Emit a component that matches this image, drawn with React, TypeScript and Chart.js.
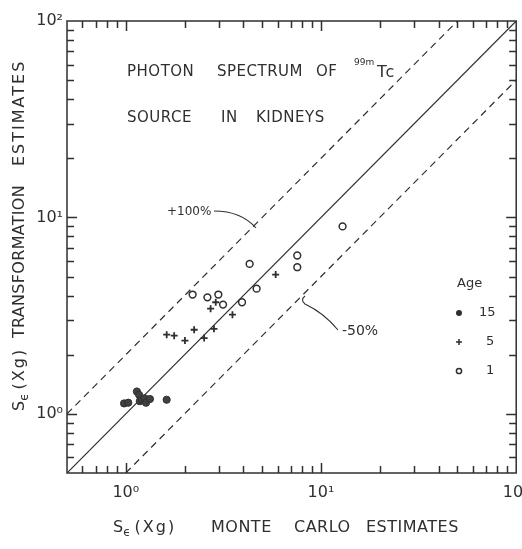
import React, { useEffect, useRef } from 'react';
import { Chart, registerables } from 'chart.js';

Chart.register(...registerables);

// Age 15 (filled circles)
const age15X = [0.98, 1.03, 1.14, 1.17, 1.18, 1.21, 1.25, 1.27, 1.33, 1.62];
const age15Y = [1.13, 1.14, 1.30, 1.25, 1.16, 1.18, 1.20, 1.14, 1.19, 1.18];
// Age 5 (crosses)
const age5X = [1.62, 1.77, 2.01, 2.24, 2.52, 2.83, 2.72, 2.89, 3.52, 5.86];
const age5Y = [2.53, 2.50, 2.36, 2.68, 2.43, 2.71, 3.43, 3.70, 3.20, 5.12];
// Age 1 (open circles)
const age1X = [2.20, 2.62, 2.98, 3.15, 3.94, 4.31, 4.68, 7.56, 7.56, 12.9];
const age1Y = [4.05, 3.92, 4.05, 3.60, 3.70, 5.80, 4.34, 6.40, 5.58, 9.0];

// reference lines (endpoints)
const identityX = [0.5, 100];
const identityY = [0.5, 100];
const plus100X = [0.5, 50];
const plus100Y = [1, 100];
const minus50X = [1, 100];
const minus50Y = [0.5, 50];

const axisMin = 0.5;
const axisMax = 100;
const majorTicks = [1, 10, 100];
const majorLabels = ['10⁰', '10¹', '10²'];
const minorTicks = [0.6, 0.7, 0.8, 0.9, 2, 3, 4, 5, 6, 7, 8, 9, 20, 30, 40, 50, 60, 70, 80, 90];
const ageLabels = ['15', '5', '1'];

const INK = '#2f2f2f';
const FONT = '"DejaVu Sans", sans-serif';

const pts = (xs: number[], ys: number[]) => xs.map((x, i) => ({ x, y: ys[i] }));

function tickLabel(v: any) {
  const i = majorTicks.indexOf(Number(v));
  return i >= 0 ? majorLabels[i] : '';
}

function setFont(ctx: CanvasRenderingContext2D, size: number, spacing = 0) {
  ctx.font = `${size}px ${FONT}`;
  (ctx as any).letterSpacing = `${spacing}px`;
}

function drawSe(ctx: CanvasRenderingContext2D, x: number, y: number, size: number) {
  setFont(ctx, size);
  ctx.fillText('S', x, y);
  let cx = x + ctx.measureText('S').width;
  setFont(ctx, Math.round(size * 0.75));
  ctx.fillText('ϵ', cx, y + size * 0.32);
  cx += ctx.measureText('ϵ').width + 4;
  setFont(ctx, size, 2);
  ctx.fillText('(Xg)', cx, y);
}

const decorPlugin = {
  id: 'decor',
  afterDraw(chart: any) {
    const ctx: CanvasRenderingContext2D = chart.ctx;
    const a = chart.chartArea;
    const xs = chart.scales.x;
    const ys = chart.scales.y;
    ctx.save();
    ctx.setLineDash([]);
    ctx.strokeStyle = INK;
    ctx.fillStyle = INK;
    ctx.lineWidth = 1.5;
    ctx.strokeRect(a.left, a.top, a.right - a.left, a.bottom - a.top);

    // inward ticks on all four sides
    ctx.lineWidth = 1.5;
    const tickVals = majorTicks.concat(minorTicks);
    ctx.beginPath();
    for (let i = 0; i < tickVals.length; i++) {
      const v = tickVals[i];
      const len = majorTicks.indexOf(v) >= 0 ? 10 : 7;
      const px = Math.round(xs.getPixelForValue(v)) + 0.5;
      if (px > a.left + 2 && px < a.right - 2) {
        ctx.moveTo(px, a.bottom);
        ctx.lineTo(px, a.bottom - len);
        ctx.moveTo(px, a.top);
        ctx.lineTo(px, a.top + len);
      }
      const py = Math.round(ys.getPixelForValue(v)) + 0.5;
      if (py > a.top + 2 && py < a.bottom - 2) {
        ctx.moveTo(a.left, py);
        ctx.lineTo(a.left + len, py);
        ctx.moveTo(a.right, py);
        ctx.lineTo(a.right - len, py);
      }
    }
    ctx.stroke();

    ctx.textBaseline = 'middle';
    ctx.textAlign = 'left';

    // title inside plot
    setFont(ctx, 15, 0.5);
    ctx.fillText('PHOTON', 127, 72);
    ctx.fillText('SPECTRUM', 217, 72);
    ctx.fillText('OF', 316, 72);
    setFont(ctx, 9);
    ctx.fillText('99m', 354, 63);
    setFont(ctx, 16, 1.5);
    ctx.fillText('Tc', 377, 73);
    setFont(ctx, 15, 0.5);
    ctx.fillText('SOURCE', 127, 118);
    ctx.fillText('IN', 221, 118);
    ctx.fillText('KIDNEYS', 256, 118);

    // annotations
    setFont(ctx, 12);
    ctx.fillText('+100%', 167, 212);
    setFont(ctx, 14);
    ctx.fillText('-50%', 342, 331);
    ctx.lineWidth = 1.1;
    ctx.beginPath();
    ctx.moveTo(214, 211);
    ctx.quadraticCurveTo(241, 211, 256, 228);
    ctx.stroke();
    ctx.beginPath();
    ctx.moveTo(305, 296);
    ctx.quadraticCurveTo(300, 300, 305, 304);
    ctx.quadraticCurveTo(324, 313, 338, 330);
    ctx.stroke();

    // legend
    setFont(ctx, 13);
    ctx.fillText('Age', 457, 284);
    const ly = [313, 342, 371];
    const lx = 459;
    ctx.lineWidth = 1.5;
    ctx.beginPath(); ctx.arc(lx, ly[0], 3, 0, Math.PI * 2); ctx.fill();
    ctx.beginPath();
    ctx.moveTo(lx - 3, ly[1]); ctx.lineTo(lx + 3, ly[1]);
    ctx.moveTo(lx, ly[1] - 3); ctx.lineTo(lx, ly[1] + 3);
    ctx.stroke();
    ctx.beginPath(); ctx.arc(lx, ly[2], 2.6, 0, Math.PI * 2); ctx.stroke();
    setFont(ctx, 13);
    ctx.fillText(ageLabels[0], 479, ly[0]);
    ctx.fillText(ageLabels[1], 486, ly[1]);
    ctx.fillText(ageLabels[2], 486, ly[2]);

    // x axis title
    drawSe(ctx, 113, 528, 16);
    setFont(ctx, 16, 0.5);
    ctx.fillText('MONTE', 211, 528);
    ctx.fillText('CARLO', 294, 528);
    ctx.fillText('ESTIMATES', 366, 528);

    // y axis title (rotated)
    ctx.save();
    ctx.translate(20, 0);
    ctx.rotate(-Math.PI / 2);
    drawSe(ctx, -411, 0, 16);
    setFont(ctx, 16, 0.3);
    ctx.fillText('TRANSFORMATION', -338, 0);
    setFont(ctx, 16, 2);
    ctx.fillText('ESTIMATES', -166, 0);
    ctx.restore();

    ctx.restore();
  },
};

export default function App() {
  const ref = useRef<HTMLCanvasElement | null>(null);
  useEffect(() => {
    if (!ref.current) return;
    const lineDs = (xs: number[], ys: number[], dashed: boolean) => ({
      data: pts(xs, ys),
      showLine: true,
      borderColor: INK,
      borderWidth: 1.2,
      borderDash: dashed ? [7, 5] : [],
      pointRadius: 0,
      pointHoverRadius: 0,
      fill: false,
    });
    const chart = new Chart(ref.current, {
      type: 'scatter',
      data: {
        datasets: [
          {
            label: '15',
            data: pts(age15X, age15Y),
            pointStyle: 'circle',
            pointRadius: 3.6,
            backgroundColor: '#404040',
            borderColor: '#2f2f2f',
            borderWidth: 1,
          },
          {
            label: '5',
            data: pts(age5X, age5Y),
            pointStyle: 'cross',
            pointRadius: 3.5,
            backgroundColor: INK,
            borderColor: INK,
            borderWidth: 1.8,
          },
          {
            label: '1',
            data: pts(age1X, age1Y),
            pointStyle: 'circle',
            pointRadius: 3.4,
            backgroundColor: 'rgba(255,255,255,0)',
            borderColor: INK,
            borderWidth: 1.5,
          },
          lineDs(identityX, identityY, false),
          lineDs(plus100X, plus100Y, true),
          lineDs(minus50X, minus50Y, true),
        ] as any,
      },
      options: {
        animation: false,
        responsive: true,
        maintainAspectRatio: false,
        devicePixelRatio: 1,
        layout: { padding: { top: 21, right: 5, left: 0, bottom: 0 } },
        plugins: { legend: { display: false }, tooltip: { enabled: false } },
        scales: {
          x: {
            type: 'logarithmic',
            min: axisMin,
            max: axisMax,
            afterBuildTicks: (s: any) => { s.ticks = majorTicks.map((v) => ({ value: v })); },
            afterFit: (s: any) => { s.height = 76; s.paddingLeft = 0; s.paddingRight = 0; },
            grid: { display: false, drawTicks: false },
            border: { display: false },
            ticks: {
              autoSkip: false, maxRotation: 0, padding: 10, color: INK,
              font: { size: 16, family: FONT },
              callback: (v: any) => tickLabel(v),
            },
          },
          y: {
            type: 'logarithmic',
            min: axisMin,
            max: axisMax,
            afterBuildTicks: (s: any) => { s.ticks = majorTicks.map((v) => ({ value: v })); },
            afterFit: (s: any) => { s.width = 67; s.paddingTop = 0; s.paddingBottom = 0; },
            grid: { display: false, drawTicks: false },
            border: { display: false },
            ticks: {
              autoSkip: false, padding: 4, color: INK,
              font: { size: 16, family: FONT },
              callback: (v: any) => tickLabel(v),
            },
          },
        },
      } as any,
      plugins: [decorPlugin],
    });
    return () => chart.destroy();
  }, []);
  return (
    <div style={{ position: 'fixed', left: 0, top: 0, width: 522, height: 549, background: '#fff' }}>
      <canvas ref={ref} />
    </div>
  );
}
